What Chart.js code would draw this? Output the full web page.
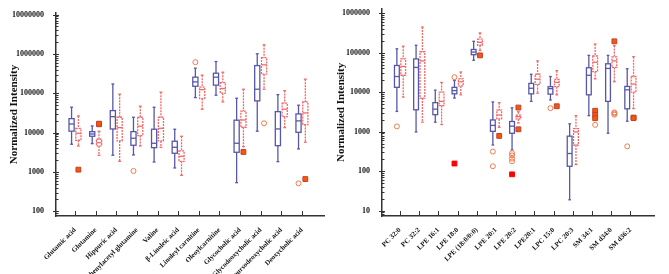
<!DOCTYPE html>
<html>
<head>
<meta charset="utf-8">
<script src="https://cdn.jsdelivr.net/npm/chart.js@4.4.0/dist/chart.umd.min.js"></script>
<style>
  html, body { margin: 0; padding: 0; background: #fff; }
  #wrap { position: relative; width: 669px; height: 274px; }
  .panel { position: absolute; top: 0; height: 274px; }
</style>
</head>
<body>
<div id="wrap">
  <div class="panel" style="left:0;width:332px"><canvas id="leftChart"></canvas></div>
  <div class="panel" style="left:332px;width:337px"><canvas id="rightChart"></canvas></div>
</div>
<script>
// ---- left panel data: [min, q1, median, q3, max] per category ----
const leftCategories = [
  "Glutamic acid", "Glutamine", "Hippuric acid", "Phenylacetyl glutamine",
  "Valine", "β-Linoleic acid", "Linoleyl carnitine", "Oleoylcarnitine",
  "Glycocholic acid", "Glycodeoxycholic acid", "Glycoursodeoxycholic acid",
  "Deoxycholic acid"
];
const leftBlue = [
  [5070, 10900, 16600, 22700, 44300],
  [5250, 8090, 9260, 10600, 14800],
  [2660, 12400, 25500, 36300, 173000],
  [2710, 4780, 7200, 10600, 24600],
  [1790, 4150, 5370, 12200, 44300],
  [1265, 2990, 4240, 6040, 12200],
  [77800, 151000, 195000, 257000, 436000],
  [89500, 161000, 257000, 324000, 641000],
  [535, 3170, 5370, 20700, 75000],
  [10900, 64100, 127000, 507000, 1010000],
  [1830, 4670, 12400, 34200, 92700],
  [3850, 10200, 19900, 29900, 49800]
];
const leftRed = [
  [4590, 6410, 9660, 12900, 26600],
  [2660, 4590, 5570, 6800, 10850],
  [1870, 6150, 13400, 24600, 94900],
  [4590, 8400, 14600, 24600, 47000],
  [4240, 6150, 12900, 24600, 107000],
  [824, 1870, 2510, 3420, 8090],
  [39400, 73300, 124000, 143000, 289000],
  [60400, 101000, 132000, 187000, 344000],
  [4400, 13700, 21000, 35100, 127000],
  [127000, 306000, 529000, 809000, 1710000],
  [13400, 25500, 39400, 56000, 117000],
  [5700, 16000, 31700, 60400, 229000]
];
// outliers: [category, group (0 blue / 1 red), value]
const leftCircles = [[3, 0, 1060], [6, 0, 618000], [9, 1, 17300], [11, 0, 515]];
const leftSquares = [[0, 1, 1146], [1, 1, 16300], [1, 1, 16900], [8, 1, 3230], [11, 1, 660]];
const leftRedSquares = [];

// ---- right panel data ----
const rightCategories = [
  "PC 32:0", "PC 32:2", "LPE 16:1", "LPE 18:0", "LPE (18:0/0:0)", "LPE 20:1",
  "LPE 20:2", "LPE20:1", "LPC 15:0", "LPC 20:3", "SM 34:1", "SM d34:0", "SM d36:2"
];
const rightBlue = [
  [3260, 13300, 25000, 47600, 126000],
  [984, 3590, 42500, 69800, 155000],
  [1740, 2700, 3720, 5440, 11300],
  [7110, 9100, 11000, 13300, 19900],
  [64600, 89300, 104000, 121000, 195000],
  [460, 1020, 1440, 1980, 5670],
  [346, 912, 1380, 1810, 4030],
  [5860, 9100, 12600, 16700, 28500],
  [6350, 8950, 12300, 13800, 25000],
  [18.8, 133, 280, 769, 1580],
  [2550, 8590, 26900, 41700, 85900],
  [912, 5860, 40100, 52500, 85900],
  [1840, 3800, 11500, 14000, 39400]
];
const rightRed = [
  [7540, 26900, 45000, 69800, 147000],
  [1740, 7110, 62200, 106000, 449000],
  [1520, 4590, 5860, 10000, 17700],
  [8590, 14400, 18400, 21800, 32600],
  [114000, 155000, 184000, 222000, 318000],
  [1290, 2100, 2640, 3510, 5440],
  [1670, 2100, 2400, 2640, 3200],
  [9460, 15800, 21400, 28500, 62200],
  [8590, 13800, 17700, 21000, 35200],
  [147, 460, 984, 1190, 2550],
  [21800, 33300, 57500, 82800, 167000],
  [18400, 42500, 62200, 78200, 152000],
  [3860, 10000, 16100, 25000, 79600]
];
const rightCircles = [
  [0, 0, 1360], [3, 0, 24000], [5, 0, 314], [5, 0, 133],
  [6, 0, 285], [6, 0, 250], [6, 0, 207], [6, 0, 177],
  [8, 0, 3940], [10, 1, 1490], [11, 1, 3080], [11, 1, 2900], [11, 1, 2700],
  [12, 0, 425]
];
const rightSquares = [
  [4, 1, 85900], [5, 1, 782], [6, 1, 4090], [6, 1, 1150], [8, 1, 4410],
  [10, 1, 3390], [10, 1, 2640], [10, 1, 2190], [11, 1, 195000],
  [12, 1, 2280], [12, 1, 2200]
];
const rightRedSquares = [[3, 0, 156], [6, 0, 83]];

const BLUE = "#5757a9";
const RED = "#f26868";
const GROUP_SHIFT = [-0.165, 0.165];
const FONT = "'Liberation Serif', 'Times New Roman', serif";

function toPoints(list) {
  return list.map(([i, g, v]) => ({ x: i + GROUP_SHIFT[g], y: v }));
}

// draws the boxes, whiskers and the axis tick marks from the scales
const boxPlugin = {
  id: "boxes",
  beforeDatasetsDraw(chart, args, opts) {
    const xs = chart.scales.x, ys = chart.scales.y, ctx = chart.ctx;
    const unit = xs.getPixelForValue(1) - xs.getPixelForValue(0);
    const half = unit * 0.125;
    const cap = unit * 0.07;
    const line = (x1, y1, x2, y2) => {
      ctx.beginPath(); ctx.moveTo(x1, y1); ctx.lineTo(x2, y2); ctx.stroke();
    };
    opts.groups.forEach((g) => {
      g.stats.forEach((s, i) => {
        const cx = xs.getPixelForValue(i + g.shift);
        const [mn, q1, med, q3, mx] = s.map((v) => ys.getPixelForValue(v));
        ctx.save();
        ctx.strokeStyle = g.color;
        ctx.lineWidth = 1.3;
        ctx.setLineDash(g.dash);
        line(cx, mx, cx, q3);
        line(cx, q1, cx, mn);
        ctx.strokeRect(cx - half, q3, 2 * half, q1 - q3);
        ctx.setLineDash([]);
        line(cx - half, med, cx + half, med);
        line(cx - cap, mx, cx + cap, mx);
        line(cx - cap, mn, cx + cap, mn);
        ctx.restore();
      });
    });
  },
  afterDraw(chart) {
    const xs = chart.scales.x, ys = chart.scales.y, ctx = chart.ctx;
    const ax = ys.right, ay = xs.top;
    ctx.save();
    ctx.strokeStyle = "#333";
    ctx.lineWidth = 1;
    const lo = Math.floor(Math.log10(ys.min)), hi = Math.ceil(Math.log10(ys.max));
    for (let e = lo; e <= hi; e++) {
      for (let m = 1; m < 10; m++) {
        const v = m * Math.pow(10, e);
        if (v < ys.min || v > ys.max) continue;
        const py = Math.round(ys.getPixelForValue(v)) + 0.5;
        ctx.beginPath();
        if (m === 1) { ctx.moveTo(ax - 3, py); ctx.lineTo(ax + 3, py); }
        else { ctx.moveTo(ax, py); ctx.lineTo(ax + 2.5, py); }
        ctx.stroke();
      }
    }
    xs.ticks.forEach((t) => {
      const px = Math.round(xs.getPixelForValue(t.value)) + 0.5;
      ctx.beginPath(); ctx.moveTo(px, ay); ctx.lineTo(px, ay - 5); ctx.stroke();
    });
    ctx.restore();
  }
};

function makeChart(id, cfg) {
  const cats = cfg.categories;
  return new Chart(document.getElementById(id), {
    type: "scatter",
    data: {
      datasets: [
        {
          data: toPoints(cfg.circles),
          pointStyle: "circle", pointRadius: 2.5, pointHoverRadius: 2.5,
          borderColor: "#f07a4e", backgroundColor: "rgba(255,255,255,0)", borderWidth: 1
        },
        {
          data: toPoints(cfg.squares),
          pointStyle: "rect", pointRadius: 3.4, pointHoverRadius: 3.4,
          borderColor: "#c4402c", backgroundColor: "#f25a08", borderWidth: 1
        },
        {
          data: toPoints(cfg.redSquares),
          pointStyle: "rect", pointRadius: 3.4, pointHoverRadius: 3.4,
          borderColor: "#ff0000", backgroundColor: "#ff0000", borderWidth: 1
        }
      ]
    },
    options: {
      responsive: true,
      maintainAspectRatio: false,
      animation: false,
      layout: { padding: cfg.padding },
      plugins: {
        legend: { display: false },
        tooltip: { enabled: false },
        boxes: {
          groups: [
            { stats: cfg.blue, shift: GROUP_SHIFT[0], color: BLUE, dash: [] },
            { stats: cfg.red, shift: GROUP_SHIFT[1], color: RED, dash: [2, 1] }
          ]
        }
      },
      scales: {
        x: {
          type: "linear",
          min: cfg.xMin,
          max: cfg.xMax,
          afterBuildTicks: (s) => { s.ticks = cats.map((c, i) => ({ value: i })); },
          afterFit: (s) => { s.height = 58; },
          grid: { display: false },
          border: { display: true, color: "#333", width: 1.5 },
          ticks: {
            autoSkip: false, maxRotation: 45, minRotation: 45, padding: 2,
            color: "#111", font: { family: FONT, size: 7, weight: "bold" },
            callback: (v) => cats[v]
          }
        },
        y: {
          type: "logarithmic",
          min: cfg.yMin,
          max: cfg.yMax,
          afterBuildTicks: (s) => {
            const t = [];
            for (let e = 0; e <= 8; e++) {
              const v = Math.pow(10, e);
              if (v >= s.min && v <= s.max) t.push({ value: v, major: true });
            }
            s.ticks = t;
          },
          afterFit: (s) => { s.width = cfg.axisWidth; },
          grid: { display: false },
          border: { display: true, color: "#333", width: 1.5 },
          ticks: {
            padding: 4, color: "#111",
            font: { family: FONT, size: 8, weight: "bold" },
            callback: (v) => String(v)
          },
          title: {
            display: true, text: "Normalized Intensity", color: "#111",
            font: { family: FONT, size: 11, weight: "bold" },
            padding: { top: cfg.titlePad, bottom: 0 }
          }
        }
      }
    },
    plugins: [boxPlugin]
  });
}

makeChart("leftChart", {
  categories: leftCategories, blue: leftBlue, red: leftRed,
  circles: leftCircles, squares: leftSquares, redSquares: leftRedSquares,
  xMin: -0.92, xMax: 12.07, yMin: 76, yMax: 11000000,
  axisWidth: 56, titlePad: 8, padding: { top: 13, right: 8, left: 0, bottom: 0 }
});

makeChart("rightChart", {
  categories: rightCategories, blue: rightBlue, red: rightRed,
  circles: rightCircles, squares: rightSquares, redSquares: rightRedSquares,
  xMin: -0.94, xMax: 13.23, yMin: 7.3, yMax: 1300000,
  axisWidth: 50, titlePad: 3, padding: { top: 4, right: 15, left: 0, bottom: 0 }
});
</script>
</body>
</html>
